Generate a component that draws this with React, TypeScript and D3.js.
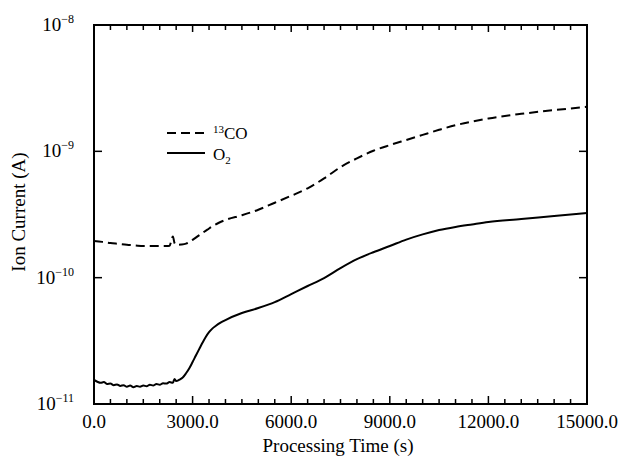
import React, { useEffect, useRef } from 'react';
import * as d3 from 'd3';

// 13CO trace (time in s, ion current in A)
const timesCO = [0, 250, 500, 750, 1000, 1250, 1500, 1750, 2000, 2200, 2300, 2350, 2400, 2450, 2500, 2650, 2800, 2900, 3000, 3150, 3300, 3450, 3600, 3800, 4000, 4500, 5000, 5500, 6000, 6500, 7000, 7500, 8000, 8500, 9000, 9500, 10000, 10500, 11000, 11500, 12000, 13000, 14000, 15000];
const valuesCO = [1.95e-10, 1.92e-10, 1.88e-10, 1.85e-10, 1.82e-10, 1.8e-10, 1.78e-10, 1.78e-10, 1.78e-10, 1.78e-10, 1.79e-10, 1.95e-10, 2.12e-10, 1.88e-10, 1.82e-10, 1.83e-10, 1.86e-10, 1.91e-10, 1.99e-10, 2.12e-10, 2.26e-10, 2.4e-10, 2.55e-10, 2.72e-10, 2.86e-10, 3.12e-10, 3.45e-10, 3.92e-10, 4.45e-10, 5.1e-10, 6.1e-10, 7.5e-10, 8.8e-10, 1.01e-9, 1.12e-9, 1.23e-9, 1.35e-9, 1.48e-9, 1.61e-9, 1.72e-9, 1.82e-9, 1.98e-9, 2.12e-9, 2.25e-9];

// O2 trace
const timesO2 = [0, 100, 200, 300, 400, 500, 600, 700, 800, 900, 1000, 1100, 1200, 1300, 1400, 1500, 1600, 1700, 1800, 1900, 2000, 2100, 2200, 2300, 2400, 2450, 2500, 2600, 2700, 2800, 2900, 3000, 3100, 3200, 3300, 3400, 3500, 3600, 3700, 3850, 4000, 4500, 5000, 5500, 6000, 6500, 7000, 7500, 8000, 8500, 9000, 9500, 10000, 10500, 11000, 11500, 12000, 13000, 14000, 15000];
const valuesO2 = [1.55e-11, 1.5e-11, 1.47e-11, 1.49e-11, 1.44e-11, 1.45e-11, 1.41e-11, 1.43e-11, 1.39e-11, 1.41e-11, 1.37e-11, 1.4e-11, 1.36e-11, 1.39e-11, 1.37e-11, 1.4e-11, 1.38e-11, 1.42e-11, 1.4e-11, 1.44e-11, 1.42e-11, 1.46e-11, 1.45e-11, 1.49e-11, 1.47e-11, 1.58e-11, 1.52e-11, 1.56e-11, 1.62e-11, 1.75e-11, 1.92e-11, 2.15e-11, 2.42e-11, 2.72e-11, 3.05e-11, 3.39e-11, 3.7e-11, 3.95e-11, 4.14e-11, 4.4e-11, 4.62e-11, 5.25e-11, 5.75e-11, 6.41e-11, 7.42e-11, 8.59e-11, 9.93e-11, 1.19e-10, 1.4e-10, 1.59e-10, 1.78e-10, 2.0e-10, 2.2e-10, 2.38e-10, 2.52e-10, 2.64e-10, 2.76e-10, 2.91e-10, 3.08e-10, 3.25e-10];

const xMajorTicks = [0, 3000, 6000, 9000, 12000, 15000];
const xMajorLabels = ['0.0', '3000.0', '6000.0', '9000.0', '12000.0', '15000.0'];
const yTickExponents = [-8, -9, -10, -11];

const Chart = () => {
  const chartRef = useRef(null);

  useEffect(() => {
    const width = 620;
    const height = 459;
    const plot = { left: 94, right: 587, top: 25, bottom: 404 };
    const font = '"Liberation Serif", "Times New Roman", serif';

    d3.select(chartRef.current).select('svg').remove();

    const svg = d3
      .select(chartRef.current)
      .append('svg')
      .attr('width', width)
      .attr('height', height)
      .style('display', 'block')
      .style('background', '#fff');

    const x = d3.scaleLinear().domain([0, 15000]).range([plot.left, plot.right]);
    const y = d3.scaleLog().domain([1e-11, 1e-8]).range([plot.bottom, plot.top]);

    // minor ticks every 500 s
    const xMinor = d3.range(0, 15001, 500).filter(t => t % 3000 !== 0);

    // bottom and top ticks (pointing inward)
    const tickG = svg.append('g').attr('stroke', '#000').attr('stroke-width', 1.5);
    xMinor.forEach(t => {
      tickG.append('line').attr('x1', x(t)).attr('x2', x(t)).attr('y1', plot.bottom).attr('y2', plot.bottom - 5);
      tickG.append('line').attr('x1', x(t)).attr('x2', x(t)).attr('y1', plot.top).attr('y2', plot.top + 5);
    });
    xMajorTicks.forEach(t => {
      tickG.append('line').attr('x1', x(t)).attr('x2', x(t)).attr('y1', plot.bottom).attr('y2', plot.bottom - 8);
      tickG.append('line').attr('x1', x(t)).attr('x2', x(t)).attr('y1', plot.top).attr('y2', plot.top + 7);
    });
    yTickExponents.forEach(e => {
      const v = Math.pow(10, e);
      tickG.append('line').attr('x1', plot.left).attr('x2', plot.left + 8).attr('y1', y(v)).attr('y2', y(v));
      tickG.append('line').attr('x1', plot.right).attr('x2', plot.right - 8).attr('y1', y(v)).attr('y2', y(v));
    });

    // frame
    svg
      .append('rect')
      .attr('x', plot.left)
      .attr('y', plot.top)
      .attr('width', plot.right - plot.left)
      .attr('height', plot.bottom - plot.top)
      .attr('fill', 'none')
      .attr('stroke', '#000')
      .attr('stroke-width', 2);

    // x tick labels
    svg
      .selectAll('.xlab')
      .data(xMajorTicks)
      .enter()
      .append('text')
      .attr('x', d => x(d))
      .attr('y', 428)
      .attr('text-anchor', 'middle')
      .attr('font-family', font)
      .attr('font-size', 19)
      .text((_, i) => xMajorLabels[i]);

    // y tick labels 10^n
    yTickExponents.forEach(e => {
      const t = svg
        .append('text')
        .attr('x', 74)
        .attr('y', y(Math.pow(10, e)) + 6)
        .attr('text-anchor', 'end')
        .attr('font-family', font)
        .attr('font-size', 19);
      t.append('tspan').text('10');
      t.append('tspan').attr('dy', -8).attr('font-size', 12).text(`\u2212${-e}`);
    });

    // axis titles
    svg
      .append('text')
      .attr('x', 338)
      .attr('y', 452)
      .attr('text-anchor', 'middle')
      .attr('font-family', font)
      .attr('font-size', 19)
      .text('Processing Time (s)');

    svg
      .append('text')
      .attr('transform', 'translate(25,212) rotate(-90)')
      .attr('text-anchor', 'middle')
      .attr('font-family', font)
      .attr('font-size', 19)
      .text('Ion Current (A)');

    // lines
    const line = d3
      .line()
      .x(d => x(d[0]))
      .y(d => y(d[1]))
      .curve(d3.curveMonotoneX);

    svg
      .append('path')
      .datum(timesCO.map((t, i) => [t, valuesCO[i]]))
      .attr('d', line)
      .attr('fill', 'none')
      .attr('stroke', '#000')
      .attr('stroke-width', 2)
      .attr('stroke-dasharray', '9,5');

    svg
      .append('path')
      .datum(timesO2.map((t, i) => [t, valuesO2[i]]))
      .attr('d', line)
      .attr('fill', 'none')
      .attr('stroke', '#000')
      .attr('stroke-width', 2);

    // legend
    const legend = svg.append('g');
    legend
      .append('line')
      .attr('x1', 167).attr('x2', 205).attr('y1', 133).attr('y2', 133)
      .attr('stroke', '#000').attr('stroke-width', 2).attr('stroke-dasharray', '9,5');
    const coText = legend
      .append('text')
      .attr('x', 213)
      .attr('y', 139)
      .attr('font-family', font)
      .attr('font-size', 17);
    coText.append('tspan').attr('dy', -6).attr('font-size', 11).text('13');
    coText.append('tspan').attr('dy', 6).text('CO');

    legend
      .append('line')
      .attr('x1', 167).attr('x2', 205).attr('y1', 153).attr('y2', 153)
      .attr('stroke', '#000').attr('stroke-width', 2);
    const o2Text = legend
      .append('text')
      .attr('x', 213)
      .attr('y', 160)
      .attr('font-family', font)
      .attr('font-size', 17);
    o2Text.append('tspan').text('O');
    o2Text.append('tspan').attr('dy', 4).attr('font-size', 11).text('2');
  }, []);

  return (
    <div style={{ position: 'absolute', left: 0, top: 0 }}>
      <div ref={chartRef}></div>
    </div>
  );
};

export default function App() {
  return <Chart />;
}
